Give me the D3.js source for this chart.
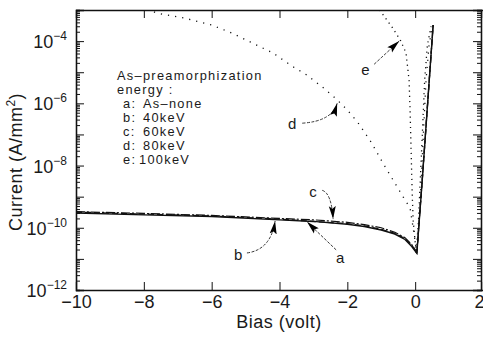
<!DOCTYPE html>
<html><head><meta charset="utf-8">
<script src="https://cdn.jsdelivr.net/npm/d3@7"></script>
<style>
body{margin:0;background:#fff}
text{font-family:"Liberation Sans",sans-serif;fill:#1a1a1a}
</style></head><body><div id="graph"></div>
<script>
var biasTicks = [-10, -8, -6, -4, -2, 0, 2]
var currentTicks = [1e-12, 1e-10, 1e-8, 1e-6, 1e-4]

// a, b, c share the bias points
var biasAbc = [-10, -8, -6, -4, -3, -2, -1.5, -1, -0.6, -0.3, -0.1, 0.05, 0.2, 0.3, 0.4, 0.53]
var currA = [3.0e-10, 2.6e-10, 2.3e-10, 1.8e-10, 1.6e-10, 1.3e-10, 1.1e-10, 8.5e-11, 6.3e-11, 4.2e-11, 2.5e-11, 1.5e-11, 2.5e-9, 8.9e-8, 3.2e-6, 3.3e-4]
var currB = [3.2e-10, 2.75e-10, 2.4e-10, 1.9e-10, 1.6e-10, 1.35e-10, 1.15e-10, 8.9e-11, 6.6e-11, 4.5e-11, 2.75e-11, 1.6e-11, 2.5e-9, 8.9e-8, 3.2e-6, 3.3e-4]
var currC = [3.3e-10, 2.9e-10, 2.5e-10, 2.0e-10, 1.8e-10, 1.5e-10, 1.26e-10, 1.0e-10, 7.2e-11, 4.8e-11, 2.9e-11, 1.6e-11, 2.5e-9, 8.9e-8, 3.2e-6, 3.3e-4]

var biasD = [-7.9, -7.6, -6.8, -6.0, -5.4, -4.8, -4.2, -3.6, -3.2, -2.7, -2.3, -2.0, -1.7, -1.3, -0.95, -0.65, -0.35, -0.15, -0.06, 0.05, 0.12, 0.18, 0.24, 0.32, 0.41, 0.5]
var currD = [1.05e-3, 7.9e-4, 5.5e-4, 3.3e-4, 1.8e-4, 8.7e-5, 4.2e-5, 1.5e-5, 8.2e-6, 3.1e-6, 1.3e-6, 6.1e-7, 2.5e-7, 5.7e-8, 1.2e-8, 3.4e-9, 9.7e-10, 4.3e-10, 1.0e-10, 1.5e-11, 1.8e-10, 3.4e-9, 9.5e-8, 5.6e-6, 7.4e-5, 2.8e-4]

var biasE = [-1.05, -0.94, -0.68, -0.44, -0.27, -0.18, -0.15, -0.12, -0.09, -0.06, 0.03, 0.1, 0.15, 0.21, 0.28, 0.36, 0.47]
var currE = [1.0e-3, 6.9e-4, 2.8e-4, 1.1e-4, 4.2e-5, 5.6e-6, 6.0e-7, 3.2e-8, 1.6e-9, 1.8e-10, 1.5e-11, 1.8e-10, 3.4e-9, 9.5e-8, 5.6e-6, 7.4e-5, 3.0e-4]

var seriesNames = ['a', 'b', 'c', 'd', 'e']
var legendTitle = ['As\u2013preamorphization', 'energy :']
var legendKeys = ['a:', 'b:', 'c:', 'd:', 'e:']
var legendValues = ['As\u2013none', '40keV', '60keV', '80keV', '100keV']

// annotation arrows in data units: label, tail start, tip
var annLabelV = [-2.21, -5.22, -3.01, -3.63, -1.47]
var annLabelI = [1.07e-11, 1.3e-11, 1.4e-9, 2.2e-7, 1.2e-5]
var annStartV = [-2.33, -4.96, -2.74, -3.33, -1.21]
var annStartI = [1.95e-11, 1.55e-11, 1.6e-9, 2.3e-7, 1.8e-5]
var annTipV = [-3.19, -4.13, -2.42, -2.30, -0.47]
var annTipI = [1.55e-10, 1.65e-10, 1.9e-10, 1.0e-6, 1.0e-4]
var annBend = [0, 1, 1, 1, 0]

var W = 483, H = 337
var svg = d3.select('#graph').append('svg').attr('width', W).attr('height', H)

var x = d3.scaleLinear().domain([-10, 2]).range([76, 483])
var y = d3.scaleLog().domain([1e-12, 1e-3]).range([290, 10])
var x0 = 76, x1 = 481, y0 = 290, y1 = 10

svg.append('clipPath').attr('id', 'clip').append('rect')
  .attr('x', x0).attr('y', y1).attr('width', x1 - x0).attr('height', y0 - y1)

// decade + minor ticks
var majors = d3.range(-12, -2).map(e => Math.pow(10, e))
var minors = []
d3.range(-12, -3).forEach(e => d3.range(2, 10).forEach(m => minors.push(m * Math.pow(10, e))))

function drawY(axisFn, xpos) {
  svg.append('g').attr('transform', `translate(${xpos},0)`)
    .call(axisFn(y).tickValues(majors).tickSize(-8).tickFormat(''))
  svg.append('g').attr('transform', `translate(${xpos},0)`)
    .call(axisFn(y).tickValues(minors).tickSize(-4).tickFormat(''))
}
drawY(d3.axisLeft, x0)
drawY(d3.axisRight, x1)

var xAxis = svg.append('g').attr('transform', `translate(0,${y0})`)
  .call(d3.axisBottom(x).tickValues(biasTicks).tickSize(-8).tickPadding(5)
    .tickFormat(d => d < 0 ? '\u2212' + Math.abs(d) : d))
xAxis.selectAll('.tick text').filter(d => d == 2).attr('text-anchor', 'end').attr('dx', 1)
svg.append('g').attr('transform', `translate(0,${y1})`)
  .call(d3.axisTop(x).tickValues(biasTicks).tickSize(-8).tickFormat(''))

svg.selectAll('.domain').attr('stroke', '#111').attr('stroke-width', 1.3)
svg.selectAll('.tick line').attr('stroke', '#111').attr('stroke-width', 1)
svg.selectAll('.tick text').attr('font-size', 18).attr('fill', '#1a1a1a')
  .attr('font-family', '"Liberation Sans",sans-serif')

// y tick labels 10^n
currentTicks.forEach(v => {
  var t = svg.append('text').attr('x', 67).attr('y', y(v) + 7)
    .attr('text-anchor', 'end').attr('font-size', 18)
  t.append('tspan').text('10')
  t.append('tspan').attr('dy', -8).attr('font-size', 12)
    .text('\u2212' + Math.round(-Math.log10(v)))
})

svg.append('text').attr('transform', 'translate(22,162) rotate(-90)')
  .attr('text-anchor', 'middle').attr('font-size', 18).attr('letter-spacing', 0.5)
  .html('Current (A/mm<tspan dy="-7" font-size="12">2</tspan><tspan dy="7">)</tspan>')

svg.append('text').attr('x', 279).attr('y', 328).attr('text-anchor', 'middle')
  .attr('font-size', 18).attr('letter-spacing', 0.5).text('Bias (volt)')

// curves
var line = d3.line().x(d => x(d[0])).y(d => y(d[1]))
var plot = svg.append('g').attr('clip-path', 'url(#clip)')
var curves = [
  {v: biasAbc, i: currA, dash: null, w: 1.4},
  {v: biasAbc, i: currB, dash: '6,3', w: 1.3},
  {v: biasAbc, i: currC, dash: '9,2,2,2', w: 1.2},
  {v: biasD, i: currD, dash: '1.2,6', w: 1.3},
  {v: biasE, i: currE, dash: '1.2,4', w: 1.3}
]
curves.forEach(c => {
  plot.append('path').datum(d3.zip(c.v, c.i))
    .attr('d', line).attr('fill', 'none').attr('stroke', '#111')
    .attr('stroke-width', c.w).attr('stroke-dasharray', c.dash)
})

// legend
var lg = svg.append('g').attr('font-size', 12.8).attr('letter-spacing', 1.3)
legendTitle.forEach((t, k) => lg.append('text').attr('x', 117).attr('y', 80 + k * 14).text(t))
legendKeys.forEach((t, k) => {
  lg.append('text').attr('x', 123).attr('y', 108 + k * 13.9).text(t)
  lg.append('text').attr('x', k == 4 ? 139 : 143).attr('y', 108 + k * 13.9).text(legendValues[k])
})

// arrows
svg.append('defs').append('marker').attr('id', 'head')
  .attr('markerUnits', 'userSpaceOnUse').attr('markerWidth', 16).attr('markerHeight', 10)
  .attr('refX', 13).attr('refY', 4.5).attr('orient', 'auto')
  .append('path').attr('d', 'M0,1 L13,4.5 L0,8 L2.5,4.5 Z').attr('fill', '#000')

seriesNames.forEach((n, k) => {
  var sx = x(annStartV[k]), sy = y(annStartI[k])
  var tx = x(annTipV[k]), ty = y(annTipI[k])
  var cx = (sx + tx) / 2, cy = (sy + ty) / 2
  if (annBend[k]) { cx = sx + (tx - sx) * 0.85; cy = sy + (ty - sy) * 0.1 }
  svg.append('path').attr('d', `M${sx},${sy} Q${cx},${cy} ${tx},${ty}`)
    .attr('fill', 'none').attr('stroke', '#222').attr('stroke-width', 0.9)
    .attr('stroke-dasharray', '3,1.5').attr('marker-end', 'url(#head)')
  svg.append('text').attr('x', x(annLabelV[k])).attr('y', y(annLabelI[k]) + 5)
    .attr('text-anchor', 'middle').attr('font-size', 15).text(n)
})
</script></body></html>
